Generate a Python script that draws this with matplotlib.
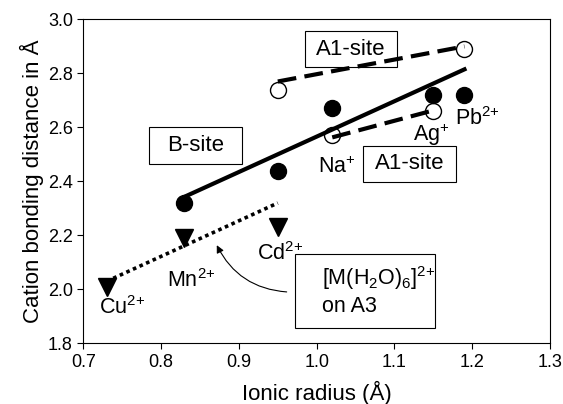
import numpy as np
import matplotlib
matplotlib.use("Agg")
import matplotlib.pyplot as plt
from matplotlib.patches import Rectangle

plt.rcParams["font.family"] = ["Liberation Sans", "DejaVu Sans"]
plt.rcParams["mathtext.fontset"] = "custom"
plt.rcParams["mathtext.rm"] = "Liberation Sans"
plt.rcParams["mathtext.it"] = "Liberation Sans"

# B-site (filled circles) and fit line
b_x = [0.83, 0.95, 1.02, 1.15, 1.19]
b_y = [2.32, 2.44, 2.67, 2.72, 2.72]
b_fit_x = [0.83, 1.19]
b_fit_y = [2.343, 2.815]

# A1-site, upper (open circles)
a1u_x = [0.95, 1.19]
a1u_y = [2.74, 2.89]
a1u_fit_x = [0.95, 1.19]
a1u_fit_y = [2.77, 2.90]

# A1-site, lower (open circles)
a1l_x = [1.02, 1.15]
a1l_y = [2.57, 2.66]
a1l_fit_x = [1.02, 1.15]
a1l_fit_y = [2.563, 2.663]

# [M(H2O)6]2+ on A3 (triangles)
a3_x = [0.73, 0.83, 0.95]
a3_y = [2.01, 2.19, 2.23]
a3_fit_x = [0.73, 0.95]
a3_fit_y = [2.03, 2.32]

ion_labels = ["Cu$^{2{+}}$", "Mn$^{2{+}}$", "Cd$^{2{+}}$", "Na$^{{+}}$", "Ag$^{{+}}$", "Pb$^{2{+}}$"]
ion_pos = [(0.72, 1.91), (0.808, 2.01), (0.923, 2.11), (1.002, 2.43), (1.124, 2.55), (1.178, 2.61)]

fig = plt.figure(figsize=(5.63, 4.04), dpi=100)
ax = fig.add_axes([0.148, 0.150, 0.829, 0.802])

ax.plot(b_fit_x, b_fit_y, color="black", lw=3, zorder=3)
ax.plot(a1u_fit_x, a1u_fit_y, color="black", lw=3, dashes=(4.5, 2), zorder=3)
ax.plot(a1l_fit_x, a1l_fit_y, color="black", lw=3, dashes=(4.5, 2), zorder=3)
ax.plot(a3_fit_x, a3_fit_y, color="black", lw=2.6, dashes=(1, 1), zorder=3)

ax.plot(b_x, b_y, "o", ms=11.5, color="black", ls="none", zorder=4)
ax.plot(a1u_x, a1u_y, "o", ms=11.5, mfc="white", mec="black", mew=1, ls="none", zorder=2)
ax.plot(a1l_x, a1l_y, "o", ms=11.5, mfc="white", mec="black", mew=1, ls="none", zorder=2)
ax.plot(a3_x, a3_y, "v", ms=12.5, color="black", ls="none", zorder=4)

for lab, (px, py) in zip(ion_labels, ion_pos):
    ax.text(px, py, lab, fontsize=15.5, ha="left", va="baseline")

# boxed labels
boxes = [
    ((0.985, 2.823), 0.118, 0.133),
    ((0.785, 2.465), 0.119, 0.136),
    ((1.060, 2.398), 0.119, 0.133),
    ((0.972, 1.857), 0.180, 0.274),
]
for (bx, by), bw, bh in boxes:
    ax.add_patch(Rectangle((bx, by), bw, bh, facecolor="white",
                           edgecolor="black", lw=0.8, zorder=1))

ax.text(1.044, 2.89, "A1-site", fontsize=16, ha="center", va="center", zorder=2)
ax.text(0.844, 2.533, "B-site", fontsize=16, ha="center", va="center", zorder=2)
ax.text(1.120, 2.465, "A1-site", fontsize=16, ha="center", va="center", zorder=2)
ax.text(1.007, 2.018, "[M(H$_2$O)$_6$]$^{2{+}}$", fontsize=15.5, ha="left", va="baseline", zorder=2)
ax.text(1.007, 1.918, "on A3", fontsize=15.5, ha="left", va="baseline", zorder=2)

ax.annotate("", xy=(0.870, 2.173), xytext=(0.965, 1.99),
            arrowprops=dict(arrowstyle="-|>", color="black", lw=0.8,
                            mutation_scale=11,
                            connectionstyle="arc3,rad=-0.3"))

ax.set_xlim(0.7, 1.3)
ax.set_ylim(1.8, 3.0)
ax.set_xticks(np.arange(0.7, 1.31, 0.1))
ax.set_yticks(np.arange(1.8, 3.01, 0.2))
ax.xaxis.set_major_formatter(plt.FormatStrFormatter("%.1f"))
ax.yaxis.set_major_formatter(plt.FormatStrFormatter("%.1f"))
ax.tick_params(direction="out", length=4, width=0.8, labelsize=13)
for s in ax.spines.values():
    s.set_linewidth(0.8)

ax.set_xlabel("Ionic radius (Å)", fontsize=16, labelpad=7)
ax.set_ylabel("Cation bonding distance in Å", fontsize=16, labelpad=3)

fig.savefig("out.png", dpi=100)
